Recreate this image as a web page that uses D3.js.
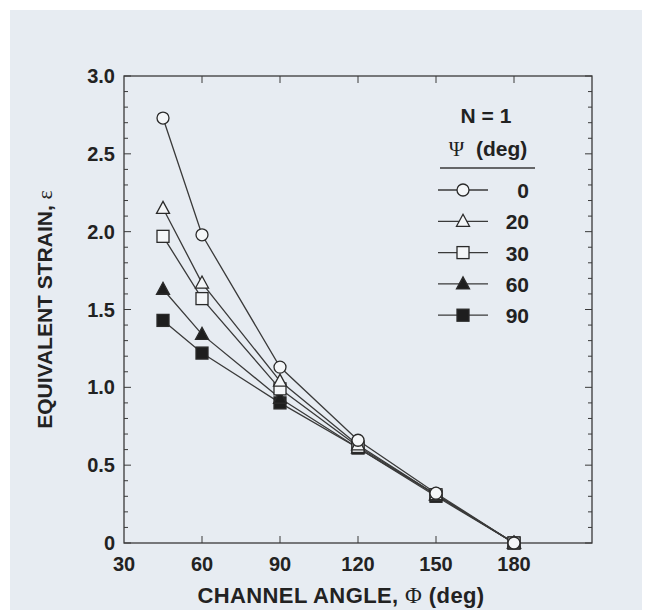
<!DOCTYPE html>
<html>
<head>
<meta charset="utf-8">
<script src="https://cdn.jsdelivr.net/npm/d3@7"></script>
<style>
  body { margin: 0; background: #ffffff; }
  text { font-family: "Liberation Sans", Arial, sans-serif; fill: #222; }
</style>
</head>
<body>
<script>
const width = 654;
const height = 610;

// channel angles (deg)
const angles = [45, 60, 90, 120, 150, 180];
// psi values (deg)
const psis = ["0", "20", "30", "60", "90"];
// equivalent strain for each psi
const strain0  = [2.73, 1.98, 1.13, 0.66, 0.32, 0];
const strain20 = [2.15, 1.67, 1.04, 0.63, 0.31, 0];
const strain30 = [1.97, 1.57, 0.99, 0.62, 0.31, 0];
const strain60 = [1.63, 1.34, 0.93, 0.61, 0.31, 0];
const strain90 = [1.43, 1.22, 0.90, 0.61, 0.30, 0];

const xTicks = [30, 60, 90, 120, 150, 180];
const yTicks = [0, 0.5, 1.0, 1.5, 2.0, 2.5, 3.0];

const series = [
    {psi: psis[0], values: strain0,  shape: "circle",   filled: false},
    {psi: psis[1], values: strain20, shape: "triangle", filled: false},
    {psi: psis[2], values: strain30, shape: "square",   filled: false},
    {psi: psis[3], values: strain60, shape: "triangle", filled: true},
    {psi: psis[4], values: strain90, shape: "square",   filled: true}
];

const svg = d3.select("body").append("svg")
    .attr("width", width)
    .attr("height", height);

// scanned paper background
svg.append("rect")
    .attr("x", 10).attr("y", 10)
    .attr("width", 632).attr("height", 600)
    .attr("fill", "#e7ecf2");

const margin = {left: 124, right: 62, top: 76, bottom: 67};
const x = d3.scaleLinear().domain([30, 210]).range([margin.left, width - margin.right]);
const y = d3.scaleLinear().domain([0, 3]).range([height - margin.bottom, margin.top]);

const ink = "#3a3a3a";

// frame
svg.append("rect")
    .attr("x", x(30)).attr("y", y(3))
    .attr("width", x(210) - x(30)).attr("height", y(0) - y(3))
    .attr("fill", "none").attr("stroke", ink).attr("stroke-width", 1.3);

// inward ticks
const minorY = d3.range(0, 3.01, 0.1).map(d => +d.toFixed(1));
const axes = svg.append("g").attr("stroke", ink).attr("stroke-width", 1);
axes.selectAll(".yl").data(minorY).enter().append("line")
    .attr("x1", x(30)).attr("x2", d => x(30) + (yTicks.includes(d) ? 7 : 4))
    .attr("y1", d => y(d)).attr("y2", d => y(d));
axes.selectAll(".yr").data(minorY).enter().append("line")
    .attr("x1", x(210)).attr("x2", d => x(210) - (yTicks.includes(d) ? 7 : 4))
    .attr("y1", d => y(d)).attr("y2", d => y(d));
axes.selectAll(".xb").data(xTicks.slice(1)).enter().append("line")
    .attr("x1", d => x(d)).attr("x2", d => x(d))
    .attr("y1", y(0)).attr("y2", y(0) - 7);
axes.selectAll(".xt").data(xTicks.slice(1)).enter().append("line")
    .attr("x1", d => x(d)).attr("x2", d => x(d))
    .attr("y1", y(3)).attr("y2", y(3) + 7);

// tick labels
svg.selectAll(".xlab").data(xTicks).enter().append("text")
    .attr("x", d => x(d)).attr("y", y(0) + 28)
    .attr("text-anchor", "middle")
    .style("font-size", "20px").style("font-weight", "bold")
    .text(d => d);
svg.selectAll(".ylab").data(yTicks).enter().append("text")
    .attr("x", x(30) - 9).attr("y", d => y(d) + 7)
    .attr("text-anchor", "end")
    .style("font-size", "20px").style("font-weight", "bold")
    .text(d => d === 0 ? "0" : d.toFixed(1));

// axis titles
const xt = svg.append("text")
    .attr("x", 341).attr("y", 603)
    .attr("text-anchor", "middle")
    .style("font-size", "22px").style("font-weight", "bold")
    .style("letter-spacing", "0.4px");
xt.append("tspan").text("CHANNEL ANGLE, ");
xt.append("tspan").style("font-family", "'Liberation Serif', serif").style("font-weight", "normal").style("font-size", "23px").text("Φ");
xt.append("tspan").text(" (deg)");

const yt = svg.append("text")
    .attr("transform", `translate(52, ${y(1.5)}) rotate(-90)`)
    .attr("text-anchor", "middle")
    .style("font-size", "21px").style("font-weight", "bold");
yt.append("tspan").text("EQUIVALENT STRAIN, ");
yt.append("tspan").style("font-family", "'Liberation Serif', serif").style("font-weight", "normal").style("font-size", "22px").text("ε");

// markers
function drawMarker(g, s, cx, cy) {
    const fill = s.filled ? "#1e1e1e" : "#f4f6f8";
    if (s.shape === "circle") {
        g.append("circle").attr("cx", cx).attr("cy", cy).attr("r", 6);
    } else if (s.shape === "square") {
        g.append("rect").attr("x", cx - 6).attr("y", cy - 6).attr("width", 12).attr("height", 12);
    } else {
        g.append("path").attr("d", `M${cx},${cy - 7}L${cx + 6.5},${cy + 5}L${cx - 6.5},${cy + 5}Z`);
    }
    g.selectAll(":last-child").attr("fill", fill).attr("stroke", "#2a2a2a").attr("stroke-width", 1.3);
}

const line = d3.line().x((d, i) => x(angles[i])).y(d => y(d));

// draw bottom series first so open circles sit on top
series.slice().reverse().forEach(s => {
    svg.append("path")
        .datum(s.values)
        .attr("d", line)
        .attr("fill", "none")
        .attr("stroke", ink)
        .attr("stroke-width", 1.3);
});
series.slice().reverse().forEach(s => {
    const g = svg.append("g");
    s.values.forEach((v, i) => drawMarker(g, s, x(angles[i]), y(v)));
});

// legend
const lg = svg.append("g");
lg.append("text").attr("x", 486).attr("y", 123).attr("text-anchor", "middle")
    .style("font-size", "21px").style("font-weight", "bold").text("N = 1");
const lt = lg.append("text").attr("x", 488).attr("y", 156).attr("text-anchor", "middle")
    .style("font-size", "21px").style("font-weight", "bold");
lt.append("tspan").style("font-family", "'Liberation Serif', serif").style("font-weight", "normal").style("font-size", "21px").text("Ψ");
lt.append("tspan").text("\u00a0 (deg)");
lg.append("line").attr("x1", 440).attr("x2", 535).attr("y1", 168).attr("y2", 168)
    .attr("stroke", ink).attr("stroke-width", 1.3);

series.forEach((s, i) => {
    const ly = 190 + i * 31.3;
    lg.append("line").attr("x1", 438).attr("x2", 488).attr("y1", ly).attr("y2", ly)
        .attr("stroke", ink).attr("stroke-width", 1.3);
    drawMarker(lg.append("g"), s, 463, ly);
    lg.append("text").attr("x", 529).attr("y", ly + 8).attr("text-anchor", "end")
        .style("font-size", "21px").style("font-weight", "bold").text(s.psi);
});
</script>
</body>
</html>
